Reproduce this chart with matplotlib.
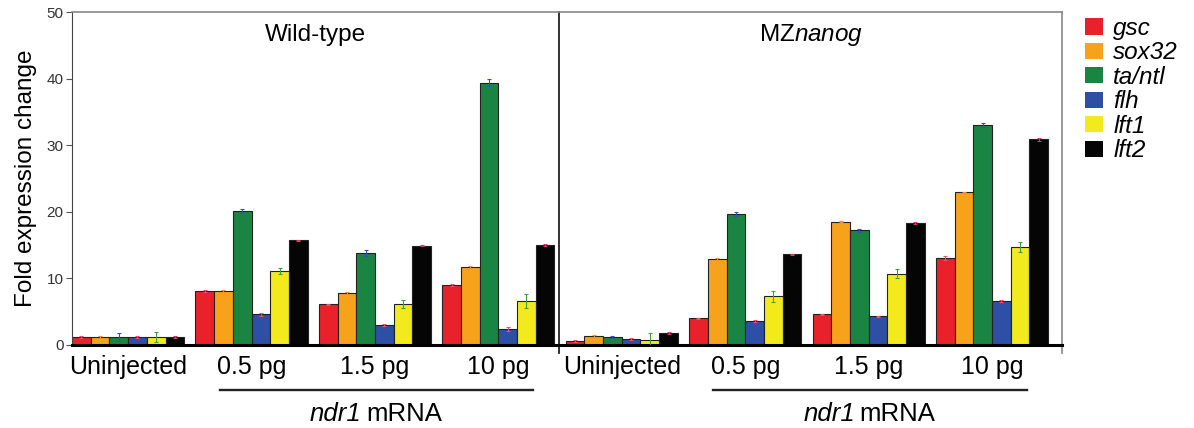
import numpy as np
import matplotlib
matplotlib.use("Agg")
import matplotlib.pyplot as plt
from matplotlib.patches import Patch

plt.rcParams['font.family'] = ['Liberation Sans', 'DejaVu Sans']
plt.rcParams['mathtext.fontset'] = 'custom'
plt.rcParams['mathtext.rm'] = 'Liberation Sans'
plt.rcParams['mathtext.it'] = 'Liberation Sans:italic'

# genes (legend order) and colours
genes = ['gsc', 'sox32', 'ta/ntl', 'flh', 'lft1', 'lft2']
colors = ['#e8212a', '#f7a21b', '#1a8542', '#2e4fa6', '#f2ea1c', '#050505']
err_colors = ['#e85070', '#e89040', '#3050c0', '#e85070', '#40a040', '#d04060']

conditions = ['Uninjected', '0.5 pg', '1.5 pg', '10 pg']

# fold change, rows = condition, cols = gene
wt_vals = [
    [1.2, 1.2, 1.2, 1.2, 1.2, 1.2],
    [8.1, 8.1, 20.1, 4.6, 11.1, 15.7],
    [6.1, 7.8, 13.8, 3.0, 6.1, 14.9],
    [9.0, 11.7, 39.4, 2.4, 6.6, 15.0],
]
wt_err = [
    [0.1, 0.1, 0.6, 0.1, 0.8, 0.1],
    [0.1, 0.1, 0.3, 0.2, 0.4, 0.1],
    [0.1, 0.1, 0.4, 0.2, 0.6, 0.1],
    [0.1, 0.1, 0.5, 0.3, 1.0, 0.1],
]
mz_vals = [
    [0.6, 1.35, 1.2, 0.9, 0.7, 1.8],
    [4.0, 12.9, 19.6, 3.6, 7.3, 13.6],
    [4.6, 18.5, 17.2, 4.3, 10.7, 18.3],
    [13.1, 22.9, 33.0, 6.6, 14.7, 30.9],
]
mz_err = [
    [0.1, 0.1, 0.2, 0.2, 1.1, 0.2],
    [0.1, 0.1, 0.3, 0.1, 0.8, 0.1],
    [0.1, 0.1, 0.2, 0.1, 0.7, 0.1],
    [0.3, 0.1, 0.3, 0.2, 0.7, 0.2],
]

yticks = [0, 10, 20, 30, 40, 50]

pitch = 6.6   # group spacing in bar widths
n_genes = len(genes)

fig = plt.figure(figsize=(11.94, 4.28), dpi=100)
ax = fig.add_axes([72 / 1194, 1 - 345 / 428, 990 / 1194, 333 / 428])

all_vals = wt_vals + mz_vals
all_err = wt_err + mz_err
for g in range(len(all_vals)):
    for j in range(n_genes):
        x = g * pitch + j + 0.5
        ax.bar(x, all_vals[g][j], width=1.0, color=colors[j],
               edgecolor='#222222', linewidth=0.8, zorder=2)
        ax.errorbar(x, all_vals[g][j], yerr=all_err[g][j], color=err_colors[j],
                    capsize=1.5, elinewidth=0.8, capthick=0.8, zorder=3)

ax.set_xlim(0, 52.94)
ax.set_ylim(0, 50)

centers = [g * pitch + 3 for g in range(8)]
ax.set_xticks(centers)
ax.set_xticklabels(conditions + conditions, fontsize=18)
ax.tick_params(axis='x', length=0, pad=7)
ax.set_yticks(yticks)
ax.tick_params(axis='y', labelsize=11, labelcolor='#333333', length=4,
               color='#555555', pad=2)
ax.set_ylabel('Fold expression change', fontsize=17.5, labelpad=7)

for side in ['top', 'right']:
    ax.spines[side].set_color('#888888')
    ax.spines[side].set_linewidth(1.2)
ax.spines['left'].set_color('#444444')
ax.spines['bottom'].set_linewidth(2.2)
ax.spines['bottom'].set_color('black')

# panel divider
ax.axvline(26.05, ymin=-0.025, ymax=1, color='#222222', lw=1.3, clip_on=False)
ax.plot([52.94, 52.94], [0, -0.025], transform=ax.get_xaxis_transform(),
        color='#888888', lw=1.2, clip_on=False)

# panel titles
ax.text(13.0, 0.93, 'Wild-type', transform=ax.get_xaxis_transform(),
        ha='center', va='center', fontsize=17.5)
ax.text(39.5, 0.93, 'MZ$\\it{nanog}$', transform=ax.get_xaxis_transform(),
        ha='center', va='center', fontsize=17.5)

# ndr1 mRNA brackets
trans = ax.get_xaxis_transform()
for off in [0, 4 * pitch]:
    x0 = off + pitch + 1.3
    x1 = off + 3 * pitch + 6 - 1.15
    xc = (x0 + x1) / 2
    ax.plot([x0, x1], [-0.135, -0.135], transform=trans, color='#222222',
            lw=1.7, clip_on=False)
    ax.text(xc - 0.8, -0.228, 'ndr1', transform=trans, style='italic',
            ha='right', va='baseline', fontsize=18.5)
    ax.text(xc - 0.55, -0.228, 'mRNA', transform=trans,
            ha='left', va='baseline', fontsize=18.5)

handles = [Patch(facecolor=c, edgecolor='none') for c in colors]
leg = fig.legend(handles, genes, loc='upper left',
                 bbox_to_anchor=(1068 / 1194, 1 - 0 / 428), frameon=False,
                 fontsize=17.5, handlelength=0.76, handleheight=0.64,
                 handletextpad=0.4, labelspacing=0.06, borderpad=0.2)
for t in leg.get_texts():
    t.set_fontstyle('italic')

fig.savefig('out.png', dpi=100)
